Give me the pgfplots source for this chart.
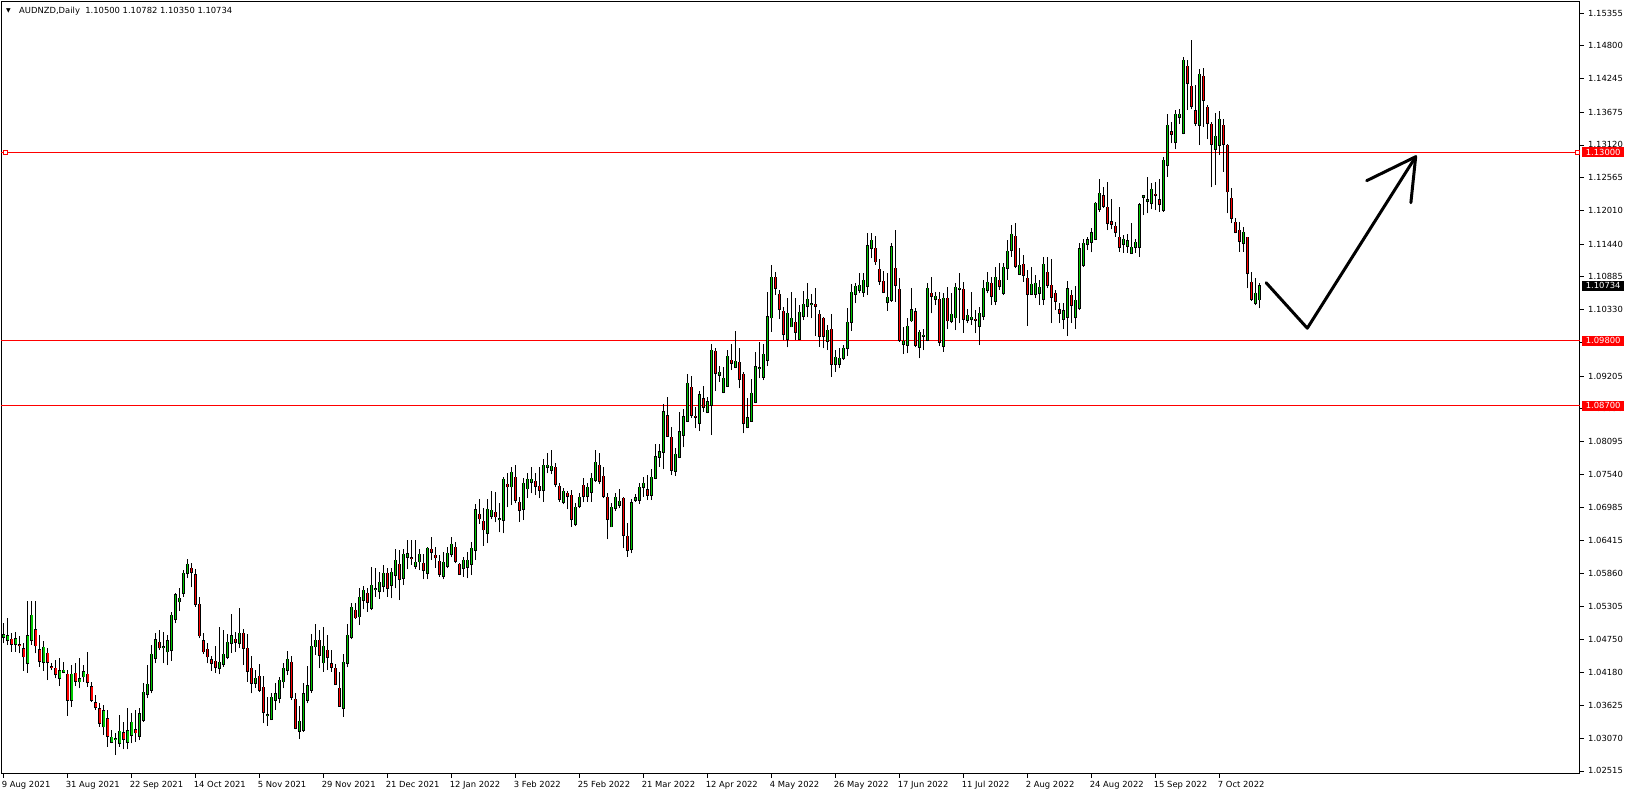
\documentclass[border=0pt]{standalone}
\usepackage{fontspec}
\setmainfont{DejaVu Sans}
\newfontfamily\symfont{DejaVu Sans}
\usepackage{pgfplots}
\usepackage{pgfplotstable}
\pgfplotsset{compat=1.18}
\definecolor{bull}{RGB}{0,200,0}
\definecolor{bear}{RGB}{255,0,0}
\definecolor{lvl}{RGB}{255,0,0}
\newcommand{\lbl}{\fontsize{8.4}{10}\selectfont}

\pgfplotstableread{
i o h l c
0 1.04778 1.05015 1.04676 1.04817
1 1.04727 1.05100 1.04648 1.04800
3 1.04659 1.04874 1.04535 1.04749
6 1.04337 1.05394 1.04179 1.04800
7 1.04727 1.05394 1.04648 1.05151
10 1.04354 1.04716 1.04213 1.04608
14 1.04083 1.04422 1.03953 1.04207
15 1.04184 1.04365 1.04168 1.04218
17 1.03710 1.04309 1.03603 1.04151
19 1.04026 1.04422 1.03913 1.04071
20 1.04111 1.04309 1.04026 1.04190
25 1.03264 1.03631 1.03122 1.03529
27 1.02998 1.03207 1.02981 1.03083
28 1.03049 1.03150 1.02783 1.03055
29 1.02981 1.03461 1.02925 1.03184
31 1.03009 1.03574 1.02879 1.03190
32 1.03117 1.03490 1.02981 1.03337
34 1.03111 1.03574 1.03037 1.03478
35 1.03382 1.03998 1.03348 1.03845
36 1.03812 1.04309 1.03744 1.03981
37 1.03885 1.04648 1.03829 1.04490
38 1.04422 1.04845 1.04337 1.04733
40 1.04603 1.04874 1.04337 1.04614
41 1.04535 1.04817 1.04309 1.04716
42 1.04557 1.05213 1.04382 1.05151
43 1.05088 1.05535 1.05015 1.05495
44 1.05382 1.05608 1.05224 1.05439
45 1.05524 1.05919 1.05467 1.05863
46 1.05863 1.06100 1.05778 1.06015
54 1.04252 1.04947 1.04150 1.04353
55 1.04320 1.04902 1.04280 1.04489
56 1.04438 1.04828 1.04404 1.04692
57 1.04676 1.05173 1.04517 1.04805
59 1.04676 1.05269 1.04591 1.04845
63 1.03997 1.04224 1.03924 1.04082
66 1.03450 1.03772 1.03280 1.03460
67 1.03387 1.03828 1.03376 1.03760
68 1.03721 1.03997 1.03546 1.03817
69 1.03743 1.04110 1.03658 1.04048
70 1.04026 1.04337 1.03913 1.04252
71 1.04218 1.04546 1.04139 1.04404
74 1.03184 1.03613 1.03054 1.03353
75 1.03201 1.03997 1.03180 1.03817
76 1.03715 1.04291 1.03658 1.03952
77 1.03890 1.04828 1.03839 1.04625
78 1.04619 1.05003 1.04478 1.04726
80 1.04348 1.04947 1.04195 1.04625
85 1.03574 1.04489 1.03433 1.04353
86 1.04337 1.05003 1.04269 1.04811
87 1.04777 1.05354 1.04743 1.05286
89 1.05128 1.05608 1.04986 1.05455
90 1.05404 1.05653 1.05252 1.05574
92 1.05269 1.05975 1.05240 1.05659
93 1.05586 1.05947 1.05466 1.05596
94 1.05557 1.05890 1.05427 1.05709
95 1.05642 1.06003 1.05540 1.05862
97 1.05659 1.05947 1.05438 1.05879
98 1.05828 1.06269 1.05608 1.06082
100 1.05777 1.06269 1.05664 1.06184
101 1.06133 1.06427 1.05930 1.06190
103 1.05986 1.06427 1.05941 1.06048
104 1.06060 1.06269 1.05918 1.06184
106 1.05861 1.06313 1.05759 1.06285
110 1.05810 1.06223 1.05759 1.06047
111 1.05991 1.06313 1.05946 1.06200
112 1.06183 1.06471 1.06132 1.06353
115 1.05946 1.06132 1.05805 1.06081
116 1.05974 1.06223 1.05776 1.06081
117 1.06014 1.06386 1.05833 1.06285
118 1.06251 1.07036 1.06087 1.06935
121 1.06539 1.07115 1.06370 1.06946
122 1.06833 1.07262 1.06776 1.06929
124 1.06771 1.07048 1.06556 1.06781
125 1.06759 1.07500 1.06539 1.07454
127 1.07330 1.07669 1.07019 1.07573
130 1.06946 1.07471 1.06765 1.07387
131 1.07296 1.07556 1.07132 1.07454
132 1.07403 1.07658 1.07217 1.07454
135 1.07268 1.07793 1.07076 1.07692
136 1.07658 1.07895 1.07556 1.07692
137 1.07613 1.07946 1.07539 1.07675
140 1.07064 1.07302 1.07031 1.07251
143 1.06692 1.07048 1.06663 1.06980
144 1.06997 1.07217 1.06963 1.07149
146 1.07166 1.07387 1.07076 1.07319
147 1.07234 1.07556 1.07076 1.07471
148 1.07437 1.07952 1.07415 1.07742
152 1.06652 1.07048 1.06641 1.06980
153 1.06963 1.07217 1.06918 1.07149
154 1.07014 1.07285 1.06963 1.07081
157 1.06270 1.07120 1.06200 1.07050
158 1.07102 1.07204 1.07074 1.07142
159 1.07102 1.07385 1.07045 1.07317
160 1.07328 1.07486 1.07159 1.07385
162 1.07187 1.07622 1.07102 1.07486
163 1.07481 1.08051 1.07452 1.07837
164 1.07837 1.08051 1.07667 1.07921
165 1.07921 1.08729 1.07622 1.08599
168 1.07599 1.07978 1.07509 1.07876
169 1.07837 1.08588 1.07808 1.08260
170 1.08209 1.08639 1.07995 1.08514
171 1.08447 1.09232 1.08430 1.09080
174 1.08413 1.08950 1.08271 1.08882
176 1.08588 1.08854 1.08571 1.08769
177 1.08718 1.09741 1.08204 1.09639
179 1.09226 1.09373 1.09108 1.09266
180 1.08927 1.09362 1.08910 1.09164
181 1.09040 1.09644 1.09023 1.09537
183 1.09362 1.09972 1.09334 1.09452
186 1.08334 1.08825 1.08317 1.08498
187 1.08447 1.09147 1.08430 1.08910
188 1.08769 1.09616 1.08741 1.09362
189 1.09329 1.09774 1.09164 1.09339
190 1.09192 1.09741 1.09136 1.09571
191 1.09469 1.10633 1.09373 1.10209
192 1.10193 1.11085 1.09955 1.10876
196 1.09825 1.10520 1.09690 1.10266
197 1.10040 1.10622 1.10029 1.10181
199 1.09825 1.10407 1.09814 1.10283
200 1.10215 1.10650 1.10153 1.10419
201 1.10385 1.10786 1.10198 1.10503
202 1.10414 1.10588 1.10181 1.10424
206 1.09791 1.10068 1.09644 1.09978
208 1.09402 1.09644 1.09277 1.09520
209 1.09402 1.09673 1.09334 1.09503
210 1.09504 1.09730 1.09476 1.09673
211 1.09673 1.10351 1.09543 1.10114
212 1.10114 1.10764 1.09973 1.10622
213 1.10589 1.10775 1.10436 1.10724
214 1.10656 1.10944 1.10606 1.10741
215 1.10622 1.10944 1.10549 1.10826
216 1.10724 1.11623 1.10577 1.11408
217 1.11368 1.11623 1.11199 1.11504
221 1.10453 1.10944 1.10312 1.10538
222 1.10487 1.11453 1.10464 1.11391
225 1.09741 1.10041 1.09577 1.09792
226 1.09724 1.10182 1.09589 1.10046
227 1.10144 1.10704 1.10128 1.10331
229 1.09690 1.09984 1.09504 1.09945
230 1.09883 1.09995 1.09645 1.09893
231 1.09815 1.10786 1.09790 1.10690
233 1.10504 1.10634 1.10408 1.10555
235 1.09707 1.10606 1.09617 1.10521
237 1.10131 1.10606 1.10097 1.10250
238 1.10193 1.10786 1.09984 1.10707
239 1.10680 1.10944 1.10097 1.10690
241 1.10153 1.10334 1.10097 1.10233
242 1.10165 1.10634 1.10069 1.10199
244 1.10046 1.10380 1.09730 1.10267
245 1.10216 1.10832 1.10154 1.10690
246 1.10656 1.10973 1.10606 1.10792
248 1.10470 1.11046 1.10408 1.10877
250 1.10606 1.11114 1.10577 1.11046
251 1.11029 1.11510 1.10832 1.11317
252 1.11334 1.11764 1.11227 1.11606
254 1.10928 1.11368 1.10916 1.11080
257 1.10589 1.11058 1.10577 1.10758
258 1.10589 1.10916 1.10521 1.10775
259 1.10606 1.10832 1.10408 1.10707
260 1.10504 1.11227 1.10408 1.11097
265 1.10174 1.10434 1.10000 1.10304
266 1.10208 1.10818 1.09880 1.10677
268 1.10197 1.10728 1.10000 1.10485
269 1.10349 1.11451 1.10321 1.11355
270 1.11078 1.11519 1.11056 1.11451
271 1.11434 1.11564 1.11338 1.11513
272 1.11479 1.11705 1.11298 1.11626
273 1.11519 1.12157 1.11507 1.12129
274 1.12027 1.12547 1.11988 1.12299
280 1.11434 1.11592 1.11293 1.11519
281 1.11400 1.11609 1.11293 1.11491
282 1.11282 1.11801 1.11270 1.11383
283 1.11383 1.11530 1.11293 1.11468
284 1.11383 1.12140 1.11225 1.12101
285 1.12231 1.12265 1.11931 1.12253
286 1.12174 1.12581 1.11960 1.12186
287 1.12129 1.12468 1.12027 1.12366
290 1.12010 1.12920 1.11988 1.12858
291 1.12773 1.13643 1.12581 1.13451
293 1.13163 1.13711 1.13044 1.13638
294 1.13587 1.13728 1.13474 1.13638
295 1.13316 1.14604 1.13300 1.14553
299 1.13457 1.14400 1.13118 1.14316
303 1.13050 1.13655 1.12440 1.13265
304 1.13112 1.13694 1.12948 1.13553
310 1.11451 1.11734 1.11310 1.11637
313 1.10434 1.10858 1.10400 1.10603
314 1.10500 1.10782 1.10350 1.10734
}\upT

\pgfplotstableread{
i o h l c
2 1.04744 1.04845 1.04535 1.04659
4 1.04653 1.04800 1.04507 1.04636
5 1.04580 1.04676 1.04213 1.04450
8 1.04902 1.05394 1.04507 1.04636
9 1.04563 1.04812 1.04281 1.04371
11 1.04507 1.04591 1.04055 1.04354
12 1.04275 1.04337 1.04224 1.04264
13 1.04252 1.04393 1.04083 1.04151
16 1.04151 1.04224 1.03450 1.03721
18 1.04168 1.04337 1.03953 1.04032
21 1.04151 1.04535 1.03942 1.04015
22 1.03936 1.04026 1.03687 1.03710
23 1.03665 1.03800 1.03546 1.03591
24 1.03563 1.03659 1.03264 1.03331
26 1.03393 1.03546 1.02925 1.03111
30 1.03156 1.03348 1.02879 1.03060
33 1.03207 1.03546 1.03009 1.03162
39 1.04693 1.04902 1.04563 1.04603
47 1.05947 1.06043 1.05625 1.05880
48 1.05834 1.05930 1.05298 1.05337
49 1.05337 1.05467 1.04761 1.04806
50 1.04716 1.04845 1.04495 1.04535
51 1.04574 1.04676 1.04337 1.04450
52 1.04393 1.04461 1.04213 1.04337
53 1.04370 1.04630 1.04178 1.04280
58 1.04743 1.04862 1.04534 1.04692
60 1.04845 1.04918 1.04308 1.04591
61 1.04591 1.04828 1.04026 1.04212
62 1.04252 1.04461 1.03828 1.03997
64 1.04116 1.04320 1.03851 1.03890
65 1.03930 1.04122 1.03320 1.03517
72 1.04353 1.04461 1.03715 1.03771
73 1.03726 1.03828 1.03218 1.03235
79 1.04726 1.04902 1.04252 1.04472
81 1.04557 1.04817 1.04224 1.04438
82 1.04325 1.04563 1.04195 1.04280
83 1.04252 1.04325 1.03969 1.03981
84 1.03913 1.04195 1.03600 1.03619
88 1.05235 1.05354 1.05088 1.05111
91 1.05523 1.05608 1.05212 1.05370
96 1.05862 1.05947 1.05466 1.05608
99 1.06014 1.06257 1.05410 1.05760
102 1.06127 1.06427 1.06003 1.06117
105 1.06031 1.06183 1.05759 1.05912
107 1.06268 1.06483 1.06087 1.06217
108 1.06166 1.06313 1.05957 1.06127
109 1.06064 1.06166 1.05805 1.05844
113 1.06302 1.06386 1.06031 1.06064
114 1.06014 1.06031 1.05833 1.05844
119 1.06861 1.07115 1.06697 1.06788
120 1.06742 1.06963 1.06330 1.06601
123 1.06895 1.07245 1.06725 1.06822
126 1.07370 1.07556 1.06980 1.07330
128 1.07488 1.07697 1.07048 1.07098
129 1.07064 1.07160 1.06737 1.06929
133 1.07420 1.07556 1.07189 1.07336
134 1.07336 1.07669 1.07132 1.07268
138 1.07658 1.07726 1.07319 1.07370
139 1.07336 1.07387 1.07076 1.07115
141 1.07217 1.07257 1.06946 1.07166
142 1.07183 1.07274 1.06652 1.06776
145 1.07353 1.07471 1.07064 1.07166
149 1.07692 1.07895 1.07370 1.07420
150 1.07505 1.07669 1.07132 1.07166
151 1.07149 1.07217 1.06437 1.06776
155 1.07132 1.07149 1.06285 1.06505
156 1.06488 1.06720 1.06144 1.06251
161 1.07272 1.07526 1.07102 1.07187
166 1.08531 1.08854 1.08176 1.08193
167 1.08164 1.08345 1.07526 1.07611
172 1.09012 1.09204 1.08486 1.08548
173 1.08520 1.08684 1.08317 1.08509
175 1.08820 1.09040 1.08599 1.08673
178 1.09622 1.09673 1.08950 1.09249
182 1.09469 1.09741 1.09305 1.09430
184 1.09435 1.09673 1.08995 1.09147
185 1.09232 1.09277 1.08232 1.08402
193 1.10876 1.10972 1.10577 1.10690
194 1.10588 1.10662 1.10170 1.10334
195 1.10300 1.10379 1.09814 1.09910
198 1.10113 1.10520 1.09814 1.09955
203 1.10419 1.10690 1.09887 1.10385
204 1.10249 1.10322 1.09701 1.09876
205 1.10181 1.10200 1.09673 1.09876
207 1.09995 1.10255 1.09192 1.09402
218 1.11368 1.11577 1.11086 1.11142
219 1.11012 1.11182 1.10747 1.10809
220 1.10809 1.10978 1.10606 1.10622
223 1.11029 1.11679 1.10464 1.10741
224 1.10673 1.10860 1.09786 1.09814
228 1.10297 1.10354 1.09690 1.09724
232 1.10606 1.10888 1.10266 1.10555
234 1.10504 1.10634 1.09713 1.09775
236 1.10521 1.10718 1.09995 1.10142
240 1.10673 1.10798 1.09939 1.10165
243 1.10165 1.10323 1.09928 1.10148
247 1.10775 1.10888 1.10408 1.10555
249 1.10826 1.11114 1.10662 1.10724
253 1.11572 1.11792 1.11029 1.11063
255 1.11097 1.11255 1.10803 1.10911
256 1.10860 1.11001 1.10057 1.10589
261 1.10961 1.11227 1.10690 1.10741
262 1.10739 1.11180 1.10100 1.10547
263 1.10603 1.10660 1.10321 1.10479
264 1.10321 1.10434 1.10100 1.10276
267 1.10570 1.10660 1.10100 1.10400
275 1.12253 1.12412 1.12044 1.12089
276 1.12061 1.12491 1.11677 1.11790
277 1.11813 1.12202 1.11688 1.11773
278 1.11739 1.11818 1.11564 1.11637
279 1.11553 1.12061 1.11310 1.11383
288 1.12282 1.12496 1.12016 1.12265
289 1.12186 1.12541 1.11988 1.12112
292 1.13338 1.13513 1.13146 1.13299
296 1.14451 1.14553 1.13711 1.14163
297 1.14112 1.14898 1.13722 1.13773
298 1.13694 1.14135 1.13440 1.13485
300 1.14282 1.14417 1.13429 1.13875
301 1.13756 1.13800 1.13214 1.13485
302 1.13468 1.13500 1.12400 1.13129
305 1.13451 1.13553 1.12666 1.13129
306 1.13112 1.13130 1.11960 1.12327
307 1.12214 1.12383 1.11790 1.11875
308 1.11807 1.11875 1.11620 1.11637
309 1.11671 1.11818 1.11310 1.11485
311 1.11553 1.11564 1.10689 1.10943
312 1.10790 1.10971 1.10479 1.10502
}\dnT

\begin{document}
\begin{tikzpicture}
\useasboundingbox (0,0) rectangle (1626pt,795pt);
\begin{axis}[
  at={(1pt,21pt)}, anchor=south west,
  scale only axis, width=1579pt, height=772pt,
  xmin=-0.675, xmax=394.075, ymin=1.024629, ymax=1.155413,
  clip=false,
  axis line style={black, line width=1pt},
  tick align=outside,
  xtick pos=left, ytick pos=right, yticklabel pos=right,
  major tick length=4pt,
  every tick/.style={black, line width=0.8pt},
  scaled y ticks=false,
  xtick={0,16,...,304},
  xticklabels={9 Aug 2021,31 Aug 2021,22 Sep 2021,14 Oct 2021,5 Nov 2021,29 Nov 2021,21 Dec 2021,12 Jan 2022,3 Feb 2022,25 Feb 2022,21 Mar 2022,12 Apr 2022,4 May 2022,26 May 2022,17 Jun 2022,11 Jul 2022,2 Aug 2022,24 Aug 2022,15 Sep 2022,7 Oct 2022},
  ytick={1.15355,1.14800,1.14245,1.13675,1.13120,1.12565,1.12010,1.11440,1.10885,1.10330,1.09775,1.09205,1.08650,1.08095,1.07540,1.06985,1.06415,1.05860,1.05305,1.04750,1.04180,1.03625,1.03070,1.02515},
  yticklabels={1.15355,1.14800,1.14245,1.13675,1.13120,1.12565,1.12010,1.11440,1.10885,1.10330,1.09775,1.09205,1.08650,1.08095,1.07540,1.06985,1.06415,1.05860,1.05305,1.04750,1.04180,1.03625,1.03070,1.02515},
  ticklabel style={font=\lbl},
  xticklabel style={anchor=north west, inner sep=0pt, xshift=-2pt, yshift=-3pt},
  yticklabel style={anchor=west, inner sep=0pt, xshift=4pt},
]
% level lines
\addplot[lvl, line width=1pt] coordinates {(-0.675,1.13) (394.075,1.13)};
\addplot[lvl, line width=1pt] coordinates {(-0.675,1.098) (394.075,1.098)};
\addplot[lvl, line width=1pt] coordinates {(-0.675,1.087) (394.075,1.087)};
% wicks
\addplot[draw=none, mark=none, error bars/.cd, y dir=plus, y explicit, error mark=none,
  error bar style={draw=black, line width=1pt}]
  table[x=i, y=l, y error plus expr=\thisrow{h}-\thisrow{l}] {\upT};
\addplot[draw=none, mark=none, error bars/.cd, y dir=plus, y explicit, error mark=none,
  error bar style={draw=black, line width=1pt}]
  table[x=i, y=l, y error plus expr=\thisrow{h}-\thisrow{l}] {\dnT};
% body outlines
\addplot[draw=none, mark=none, error bars/.cd, y dir=plus, y explicit, error mark=none,
  error bar style={draw=black, line width=3.4pt}]
  table[x=i, y expr=\thisrow{o}-0.00013, y error plus expr=\thisrow{c}-\thisrow{o}+0.00026] {\upT};
\addplot[draw=none, mark=none, error bars/.cd, y dir=plus, y explicit, error mark=none,
  error bar style={draw=black, line width=3.4pt}]
  table[x=i, y expr=\thisrow{c}-0.00013, y error plus expr=\thisrow{o}-\thisrow{c}+0.00026] {\dnT};
% body fills
\addplot[draw=none, mark=none, error bars/.cd, y dir=plus, y explicit, error mark=none,
  error bar style={draw=bull, line width=1.6pt}]
  table[x=i, y=o, y error plus expr=\thisrow{c}-\thisrow{o}] {\upT};
\addplot[draw=none, mark=none, error bars/.cd, y dir=plus, y explicit, error mark=none,
  error bar style={draw=bear, line width=1.6pt}]
  table[x=i, y=c, y error plus expr=\thisrow{o}-\thisrow{c}] {\dnT};
% hand-drawn arrow
\draw[black, line width=3pt, line join=round, line cap=round]
  (axis cs:315.6,1.10786) -- (axis cs:325.9,1.10015) -- (axis cs:353.0,1.12920);
\draw[black, line width=3pt, line join=round, line cap=round]
  (axis cs:340.75,1.12514) -- (axis cs:353.0,1.12920) -- (axis cs:351.8,1.12141);
% selection handles
\node[draw=lvl, fill=white, line width=0.8pt, minimum size=4pt, inner sep=0pt] at (axis cs:0.33,1.13) {};
\node[draw=lvl, fill=white, line width=0.8pt, minimum size=4pt, inner sep=0pt] at (axis cs:393.4,1.13) {};
\coordinate (RA) at (axis cs:394.075,1.13);
\coordinate (RB) at (axis cs:394.075,1.098);
\coordinate (RC) at (axis cs:394.075,1.087);
\coordinate (RP) at (axis cs:394.075,1.10734);
\end{axis}
\tikzset{pricebox/.style={anchor=west, inner sep=0pt, minimum width=42pt, minimum height=10.5pt, text=white, font=\lbl}}
\node[pricebox, fill=lvl] at ([xshift=2pt]RA) {1.13000};
\node[pricebox, fill=lvl] at ([xshift=2pt]RB) {1.09800};
\node[pricebox, fill=lvl] at ([xshift=2pt]RC) {1.08700};
\node[pricebox, fill=black] at ([xshift=2pt]RP) {1.10734};
\node[anchor=center, inner sep=0pt, font=\symfont\fontsize{6}{6}\selectfont] at (8.5pt,784.5pt) {▼};
\node[anchor=base west, inner sep=0pt, font=\lbl] at (19pt,781pt) {AUDNZD,Daily\ \ 1.10500 1.10782 1.10350 1.10734};
\end{tikzpicture}
\end{document}
